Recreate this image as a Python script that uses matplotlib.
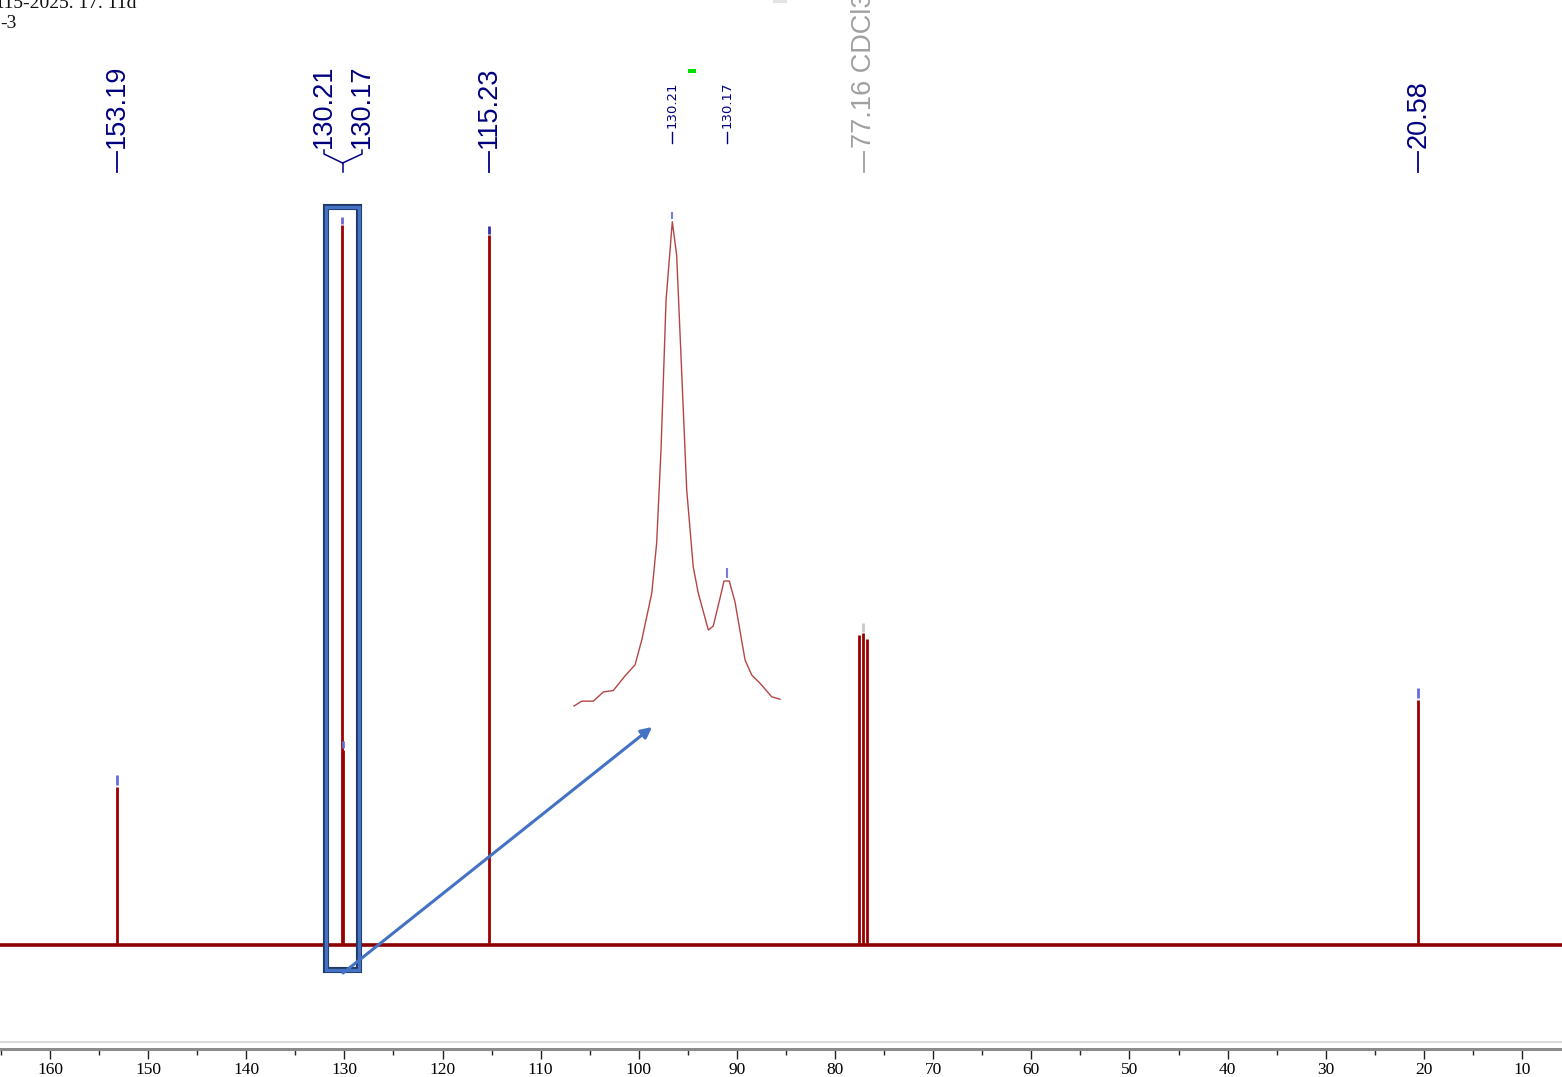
import matplotlib
matplotlib.use('Agg')
import matplotlib.pyplot as plt
from matplotlib.patches import Rectangle, FancyArrowPatch
from matplotlib.ticker import MultipleLocator

# ---------------- data ----------------
# main spectrum peaks (ppm, relative intensity)
peak_ppm = [153.19, 130.21, 130.17, 115.23, 77.60, 77.16, 76.72, 20.58]
peak_height = [158, 720, 195, 710, 310, 312, 306, 245]

# picked-peak markers at the top of peaks
tip_ppm = [153.19, 130.21, 130.17, 115.23, 77.16, 20.58]
tip_low = [160, 721, 197, 711, 313, 247]
tip_high = [170, 728, 204, 719, 322, 257]
tip_colors = ['#6a6ad8', '#6a6ad8', '#6a6ad8', '#3030b0', '#c8c8c8', '#6a6ad8']

# peak labels (label_x = where the spread-out label sits on the ppm axis)
label_text = ['153.19', '130.21', '130.17', '115.23', '77.16 CDCl3', '20.58']
label_ppm = [153.19, 130.21, 130.17, 115.23, 77.16, 20.58]
label_x = [153.19, 132.08, 128.21, 115.23, 77.10, 20.58]
label_colors = ['#000080', '#000080', '#000080', '#000080', '#a0a0a0', '#000080']

# zoomed inset of the 130.21 / 130.17 pair
inset_ppm = [130.2823, 130.2766, 130.2681, 130.2607, 130.2534, 130.2448, 130.2374,
             130.2325, 130.2251, 130.2215, 130.2183, 130.2146, 130.2100, 130.2068,
             130.2038, 130.1994, 130.1946, 130.1909, 130.1835, 130.1799, 130.1749,
             130.1720, 130.1681, 130.1639, 130.1565, 130.1516, 130.1455, 130.1369,
             130.1308]
inset_int = [0.0, 1.0, 1.0, 2.9, 3.2, 6.2, 8.5, 13.6, 23.3, 33.7, 52.9, 83.8, 100.0,
             93.1, 73.5, 44.6, 28.7, 23.3, 15.7, 16.5, 22.3, 25.8, 25.8, 21.5, 9.5,
             6.4, 4.7, 1.9, 1.4]
inset_label_ppm = [130.21, 130.17]
inset_label_text = ['130.21', '130.17']
inset_tip_low = [100.5, 26.5]
inset_tip_high = [102.0, 28.5]

x_ticks = [160, 150, 140, 130, 120, 110, 100, 90, 80, 70, 60, 50, 40, 30, 20, 10]

# ---------------- figure ----------------
W, H = 1562, 1077
fig = plt.figure(figsize=(W / 100, H / 100), dpi=100)
ax = fig.add_axes([0, 28 / H, 1, 1049 / H])
ax.set_xlim(165.10, 5.92)
ax.set_ylim(-104, 945)

red = '#8b0000'
# baseline
ax.plot([165.10, 5.92], [0, 0], color=red, lw=2.6, solid_capstyle='butt', zorder=2)
# peaks
ax.vlines(peak_ppm, 0, peak_height, color='#9a0000', lw=2.0, zorder=3)
# peak tip markers
ax.vlines(tip_ppm, tip_low, tip_high, colors=tip_colors, lw=2.0, zorder=3)

# axis styling
for s in ['left', 'right', 'top']:
    ax.spines[s].set_visible(False)
ax.spines['bottom'].set_color('#8c8c8c')
ax.spines['bottom'].set_linewidth(2.2)
ax.set_yticks([])
ax.set_xticks(x_ticks)
ax.set_xticklabels([str(t) for t in x_ticks], family='Liberation Serif', fontsize=12.5,
                   color='#000000')
ax.xaxis.set_minor_locator(MultipleLocator(5))
ax.tick_params(axis='x', which='major', length=7, width=1.0, color='#202020', pad=2)
ax.tick_params(axis='x', which='minor', length=4, width=1.0, color='#202020')
# light line above the axis
ax.axhline(-97, color='#d9d9d9', lw=1.5, zorder=1)

# ---------------- labels ----------------
for t, x, c in zip(label_text, label_x, label_colors):
    ax.text(x, 797, t, rotation=90, ha='center', va='bottom', color=c,
            family='Liberation Sans', fontsize=19.5, clip_on=False)

# simple dashes for single labels
for t, x, c in zip(label_text, label_x, label_colors):
    if not t.startswith('130'):
        ax.plot([x, x], [773, 793], color=c, lw=1.3, clip_on=False)

# bracket joining the 130.21 / 130.17 labels to their peak position
junction = 130.19
navy = '#000080'
ax.plot([label_x[1], label_x[1], junction], [795, 791, 782], color=navy, lw=1.1, clip_on=False)
ax.plot([label_x[2], label_x[2], junction], [795, 791, 782], color=navy, lw=1.1, clip_on=False)
ax.plot([junction, junction], [782, 773], color=navy, lw=1.1, clip_on=False)

# ---------------- highlight box and arrow ----------------
ax.add_patch(Rectangle((128.51, -25), 3.36, 763, fill=False, ec='#1f3864', lw=4.4,
                       zorder=5, clip_on=False))
ax.add_patch(Rectangle((128.51, -25), 3.36, 763, fill=False, ec='#4472c4', lw=2.4,
                       zorder=6, clip_on=False))
ax.add_patch(FancyArrowPatch((130.14, -28), (98.65, 218), arrowstyle='-|>',
                             mutation_scale=16, color='#4472c4', lw=2.2, zorder=7,
                             clip_on=False, shrinkA=0, shrinkB=0))

# ---------------- inset ----------------
ins = ax.inset_axes([574 / W, (1049 - 706) / 1049, 206 / W, (706 - 221.7) / 1049])
ins.set_xlim(inset_ppm[0], inset_ppm[-1])
ins.set_ylim(0, 100)
ins.axis('off')
ins.plot(inset_ppm, inset_int, color='#b54545', lw=1.0, clip_on=False)
ins.vlines(inset_label_ppm, inset_tip_low, inset_tip_high, colors='#7a7ae0', lw=1.5,
           clip_on=False)
for p, t in zip(inset_label_ppm, inset_label_text):
    ins.text(p, 119.3, t, rotation=90, ha='center', va='bottom', color='#000080',
             family='DejaVu Sans', fontsize=9.5, clip_on=False)
    ins.plot([p, p], [116.3, 118.5], color='#000080', lw=1.0, clip_on=False)

# ---------------- header text and decorations ----------------
fig.text(-2 / W, 1 - 8 / H, 't15-2025. 17. 11d', family='Liberation Serif', fontsize=14,
         va='baseline', ha='left', color='#101010')
fig.text(0, 1 - 28 / H, '-3', family='Liberation Serif', fontsize=14,
         va='baseline', ha='left', color='#101010')
fig.patches.append(Rectangle((688 / W, 1 - 73 / H), 8 / W, 4 / H, transform=fig.transFigure,
                             fc='#00e000', ec='none'))
fig.patches.append(Rectangle((773 / W, 1 - 3 / H), 14 / W, 3 / H, transform=fig.transFigure,
                             fc='#e4e4e4', ec='none'))

fig.savefig('out.png', dpi=100)
